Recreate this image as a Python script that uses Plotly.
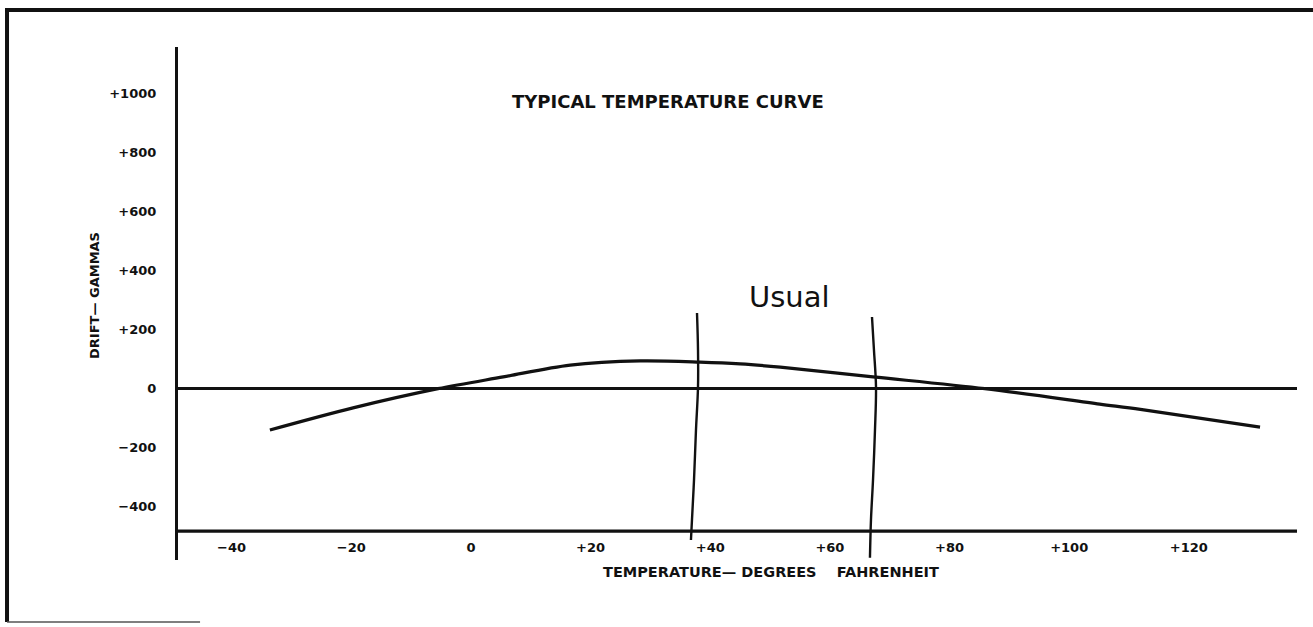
import plotly.graph_objects as go

# ---- data ----
temp_f = [-33.6, -19.7, -5.5, 5.4, 16.6, 28.3, 38.3, 45.0, 51.7, 67.2, 85.9, 105.1, 111.9, 131.9]
drift_gammas = [-140, -65, 0, 40, 80, 94, 90, 84, 73, 40, 0, -52, -70, -130]

# hand-drawn "Usual" range marks (two near-vertical strokes)
mark1_t = [37.79, 37.96, 37.96, 37.62, 37.29, 36.95, 36.78]
mark1_d = [256.3, 131.1, 5.8, -139.9, -309.2, -444.6, -512.4]
mark2_t = [67.04, 67.37, 67.71, 67.54, 67.21, 66.87, 66.70]
mark2_d = [242.8, 131.1, 5.8, -139.9, -309.2, -444.6, -572.8]

x_tickvals = [-40, -20, 0, 20, 40, 60, 80, 100, 120]
x_ticktext = ["\u221240", "\u221220", "0", "+20", "+40", "+60", "+80", "+100", "+120"]
y_tickvals = [-400, -200, 0, 200, 400, 600, 800, 1000]
y_ticktext = ["\u2212400", "\u2212200", "0", "+200", "+400", "+600", "+800", "+1000"]

x_axis_at = -482  # drift value where the temperature axis is drawn
x_range = [-48.96, 138.08]
y_range = [-580.1, 1157.1]

FONT = "DejaVu Sans"
ink = "#111111"

fig = go.Figure()

fig.add_trace(go.Scatter(x=temp_f, y=drift_gammas, mode="lines",
                         line=dict(color=ink, width=3.2, shape="spline", smoothing=0.9),
                         hoverinfo="skip", showlegend=False))
fig.add_trace(go.Scatter(x=mark1_t, y=mark1_d, mode="lines",
                         line=dict(color=ink, width=2.4, shape="spline"),
                         hoverinfo="skip", showlegend=False))
fig.add_trace(go.Scatter(x=mark2_t, y=mark2_d, mode="lines",
                         line=dict(color=ink, width=2.4, shape="spline"),
                         hoverinfo="skip", showlegend=False))

shapes = [
    # temperature axis line
    dict(type="line", xref="paper", x0=0, x1=1, yref="y", y0=x_axis_at, y1=x_axis_at,
         line=dict(color=ink, width=3.2)),
    # page frame
    dict(type="line", xref="paper", yref="paper", x0=-0.1546, x1=1.0143, y0=1.0721, y1=1.0721,
         line=dict(color=ink, width=4)),
    dict(type="line", xref="paper", yref="paper", x0=-0.1528, x1=-0.1528, y0=1.0721, y1=-0.1209,
         line=dict(color=ink, width=4)),
    dict(type="line", xref="paper", yref="paper", x0=-0.1528, x1=0.0197, y0=-0.1209, y1=-0.1209,
         line=dict(color="#555555", width=1.5)),
]

annotations = [
    dict(text="TYPICAL TEMPERATURE CURVE", xref="paper", yref="paper", x=0.4379, y=0.8928,
         showarrow=False, xanchor="center", yanchor="middle",
         font=dict(family=FONT, size=18, color=ink, weight="bold")),
    dict(text="Usual", xref="x", yref="y", x=53.2, y=310.5, showarrow=False,
         xanchor="center", yanchor="middle",
         font=dict(family=FONT, size=29, color=ink)),
    dict(text="DRIFT\u2014 GAMMAS", xref="paper", yref="paper", x=-0.0742, y=0.5166,
         showarrow=False, textangle=-90, xanchor="center", yanchor="middle",
         font=dict(family=FONT, size=13, color=ink, weight="bold")),
    dict(text="TEMPERATURE\u2014 DEGREES \u00a0 \u00a0FAHRENHEIT", xref="paper", yref="paper",
         x=0.530, y=-0.0234, showarrow=False, xanchor="center", yanchor="middle",
         font=dict(family=FONT, size=14.5, color=ink, weight="bold")),
]

fig.update_layout(
    width=1313, height=627,
    margin=dict(l=178, r=16, t=47, b=67, autoexpand=False),
    paper_bgcolor="white", plot_bgcolor="white",
    shapes=shapes, annotations=annotations,
    showlegend=False,
    xaxis=dict(range=x_range, tickvals=x_tickvals, ticktext=x_ticktext,
               showgrid=False, zeroline=False, showline=False, ticks="",
               ticklabelposition="inside", ticklabelstandoff=2,
               tickfont=dict(family=FONT, size=13, color=ink, weight="bold"),
               fixedrange=True),
    yaxis=dict(range=y_range, tickvals=y_tickvals, ticktext=y_ticktext,
               showgrid=False, zeroline=True, zerolinecolor=ink, zerolinewidth=2.6,
               showline=True, linecolor=ink, linewidth=3.2, ticks="",
               ticklabelstandoff=16,
               tickfont=dict(family=FONT, size=13, color=ink, weight="bold"),
               fixedrange=True),
)

fig.write_html("out.html", config={"displayModeBar": False},
               post_script="document.body.style.margin='0';")
